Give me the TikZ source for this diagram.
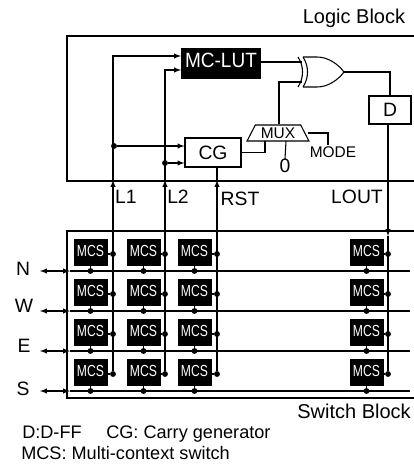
\documentclass[tikz,border=0pt]{standalone}
\usepackage{fontspec}
\setmainfont{Liberation Sans}
\newfontfamily\lutfont[FakeStretch=0.92]{Liberation Sans}
\newfontfamily\mcsfont[FakeStretch=0.76]{Liberation Sans}
\usetikzlibrary{shapes.geometric}
\tikzset{
  wire/.style={line width=0.8pt, >=latex},
  bigtext/.style={inner sep=0pt, font=\fontsize{14.5}{16}\selectfont},
  titletext/.style={inner sep=0pt, anchor=base, font=\fontsize{15}{17}\selectfont},
  smalltext/.style={inner sep=0pt, font=\fontsize{11.6}{13}\selectfont},
  notetext/.style={inner sep=0pt, anchor=base west, font=\fontsize{13.6}{15}\selectfont},
  lutbox/.style={fill=black, text=white, inner sep=0pt, minimum width=60pt, minimum height=23.25pt, text depth=4.5pt, font=\lutfont\fontsize{15.5}{17}\selectfont},
  cgbox/.style={draw, line width=0.8pt, inner sep=0pt, minimum width=42pt, minimum height=21.75pt, font=\fontsize{14.5}{16}\selectfont},
  ffbox/.style={draw, line width=0.8pt, inner sep=0pt, minimum width=31.5pt, minimum height=21pt, font=\fontsize{14.5}{16}\selectfont},
  muxbox/.style={draw, line width=0.8pt, trapezium, trapezium stretches=true, inner sep=0pt, minimum width=46.5pt, minimum height=12pt, font=\fontsize{11.6}{13}\selectfont},
  mcsbox/.style={fill=black, text=white, inner sep=0pt, minimum width=25.5pt, minimum height=20.25pt, text depth=2.2pt, font=\mcsfont\fontsize{12}{13}\selectfont},
  dotnode/.style={circle, fill=black, inner sep=0pt, minimum size=4.4pt}
}
\begin{document}
\begin{tikzpicture}[x=0.75pt,y=-0.75pt]
\useasboundingbox (0,0) rectangle (414,464);

% logic block
\node [titletext] (logictitle) at (354,23) {Logic Block};
\draw [wire] (414,36) -- (67,36) -- (67,181) -- (414,181);
\node [lutbox] (lut) at (221,63.5) {MC-LUT};
\node [cgbox] (cg) at (213,152.5) {CG};
\node [ffbox] (dff) at (390,110) {D};
\node [muxbox] (mux) at (278,133) {MUX};
\node [bigtext] (zero) at (285,166) {0};
\node [smalltext] (mode) at (333,152) {MODE};

% xor gate
\draw [wire] (298,57) .. controls (304,66) and (304,78) .. (298,87);
\draw [wire] (303,57) .. controls (309,66) and (309,78) .. (303,87);
\draw [wire] (303,57) -- (317,57) .. controls (328,57) and (338,64) .. (344,72)
  .. controls (338,80) and (328,87) .. (317,87) -- (303,87);
\coordinate (xora) at (302,62);
\coordinate (xorb) at (302,82);
\coordinate (xorout) at (344,72);

\draw [wire] (lut.east |- xora) -- (xora);
\draw [wire] (mux.north -| 279,0) -- (279,82) -- (xorb);
\draw [wire] (xorout) -| (dff.north);
\draw [wire] (cg.east) -- (265,152.5) -- (265,141);
\draw [wire] (286,141) -- (zero.north);
\draw [wire] (308,133) -- (328,133) -- (328,145);

% switch block
\draw [wire] (414,231) -- (67,231) -- (67,398) -- (414,398);
\node [titletext] (switchtitle) at (354,418) {Switch Block};

\foreach \r/\y in {1/252.5,2/292.5,3/332.5,4/372.5} {
  \coordinate (busl-\r) at (40,\y+18.5);
  \coordinate (busm-\r) at (70,\y+18.5);
  \coordinate (busr-\r) at (410,\y+18.5);
  \draw [wire, <->] (busl-\r) -- (busm-\r);
  \draw [wire] (busm-\r) -- (busr-\r);
  \foreach \c/\x/\v in {1/90.5/113,2/143.5/165,3/194.5/217,4/366.5/388} {
    \node [mcsbox] (mcs-\r-\c) at (\x,\y) {MCS};
    \node [dotnode] (dotv-\r-\c) at (\v,\y+1.5) {};
    \node [dotnode] (doth-\r-\c) at (\x,\y+18.5) {};
    \draw [wire] (mcs-\r-\c.east |- dotv-\r-\c) -- (dotv-\r-\c);
    \draw [wire] (mcs-\r-\c.south) -- (doth-\r-\c);
  }
}
\node [bigtext] (nlabel) at (23,269) {N};
\node [bigtext] (wlabel) at (24,306) {W};
\node [bigtext] (elabel) at (24,346) {E};
\node [bigtext] (slabel) at (23,389) {S};

% vertical lines between the blocks
\coordinate (l1in) at (113,180);
\coordinate (l2in) at (165,180);
\coordinate (rstin) at (217,180);
\coordinate (loutin) at (388,236);
\draw [wire, ->] (dotv-4-1) -- (l1in);
\draw [wire, ->] (dotv-4-2) -- (l2in);
\draw [wire, ->] (dotv-4-3) -- (rstin);
\draw [wire, ->] (388,124) -- (loutin);
\draw [wire] (loutin) -- (dotv-4-4);
\draw [wire, ->] (l1in) -- (113,56) -- (181,56);
\draw [wire, ->] (l2in) -- (165,70) -- (181,70);
\draw [wire] (rstin) -- (cg.south -| rstin);
\node [dotnode] (l1dot) at (114,146) {};
\node [dotnode] (l2dot) at (165,163) {};
\draw [wire, ->] (l1dot) -- (l1dot -| cg.west);
\draw [wire, ->] (l2dot) -- (l2dot -| cg.west);

\node [bigtext] (l1label) at (126,197) {L1};
\node [bigtext] (l2label) at (178,197) {L2};
\node [bigtext] (rstlabel) at (240,199) {RST};
\node [bigtext] (loutlabel) at (357,197) {LOUT};

% notes
\node [notetext] (ffnote) at (22,438) {D:D-FF};
\node [notetext] (cgnote) at (106,438) {CG: Carry generator};
\node [notetext] (mcsnote) at (21,459) {MCS: Multi-context switch};

\end{tikzpicture}
\end{document}
